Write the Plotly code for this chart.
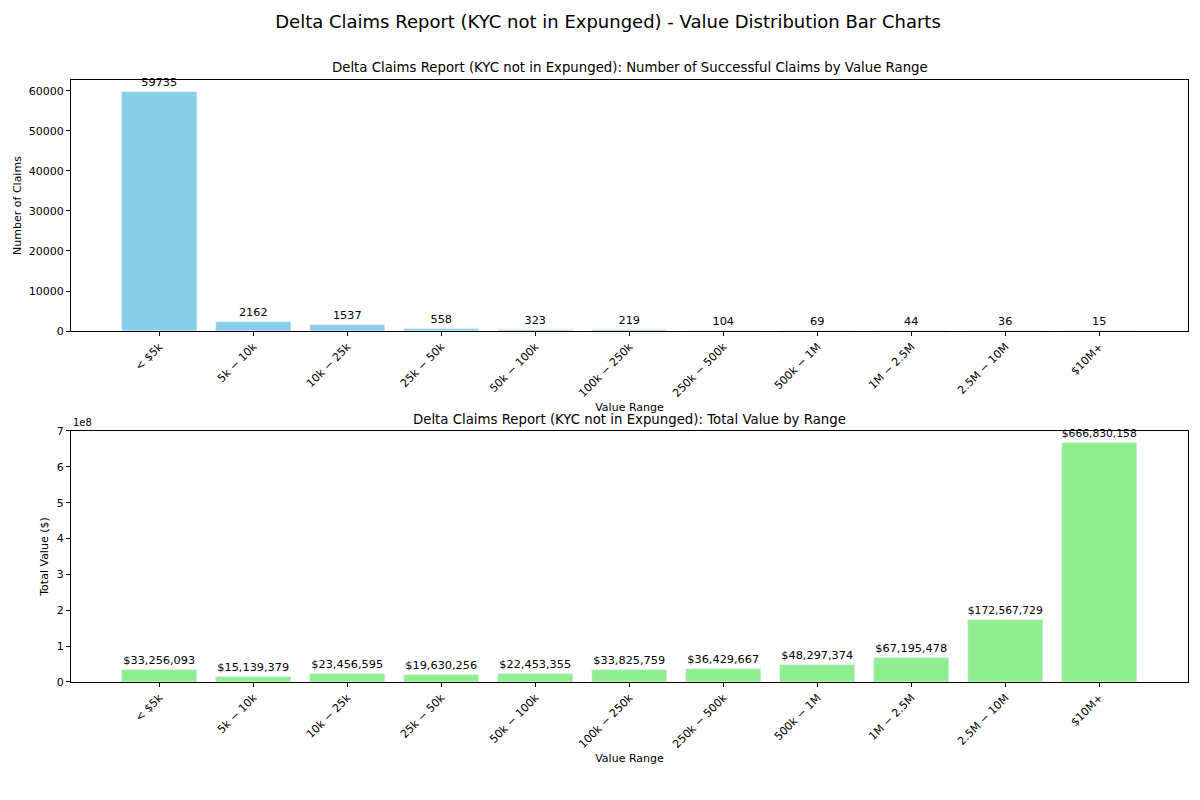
import plotly.graph_objects as go
from plotly.subplots import make_subplots

# value ranges (matplotlib rendered the $..$ pairs as math text)
ranges = ["< $5k", "5k − 10k", "10k − 25k", "25k − 50k", "50k − 100k", "100k − 250k",
          "250k − 500k", "500k − 1M", "1M − 2.5M", "2.5M − 10M", "$10M+"]
claim_counts = [59735, 2162, 1537, 558, 323, 219, 104, 69, 44, 36, 15]
total_values = [33256093, 15139379, 23456595, 19630256, 22453355, 33825759,
                36429667, 48297374, 67195478, 172567729, 666830158]
count_ticks = [0, 10000, 20000, 30000, 40000, 50000, 60000]
value_ticks = [0, 1, 2, 3, 4, 5, 6, 7]  # x 1e8

title = "Delta Claims Report (KYC not in Expunged)"
x = list(range(len(ranges)))

fig = make_subplots(rows=2, cols=1, vertical_spacing=0.166)

fig.add_trace(go.Bar(x=x, y=claim_counts, width=0.8, marker_color="#87CEEB",
                     text=[str(v) for v in claim_counts], textposition="outside",
                     cliponaxis=False, textfont=dict(size=11.3, color="black"),
                     showlegend=False), row=1, col=1)
fig.add_trace(go.Bar(x=x, y=total_values, width=0.8, marker_color="#90EE90",
                     text=[f"${v:,}" for v in total_values], textposition="outside",
                     cliponaxis=False, textfont=dict(size=11.3, color="black"),
                     showlegend=False), row=2, col=1)

axis_style = dict(showline=True, linecolor="black", linewidth=1, mirror=True,
                  ticks="outside", ticklen=4, tickcolor="black", showgrid=False,
                  zeroline=False, automargin=False,
                  tickfont=dict(size=11, color="black"))

for r in (1, 2):
    fig.update_xaxes(range=[-0.94, 10.94], tickvals=x, ticktext=ranges, tickangle=-45,
                     title=dict(text="Value Range", font=dict(size=11, color="black"),
                                standoff=4),
                     row=r, col=1, **axis_style)

fig.update_yaxes(range=[0, 62722], tickvals=count_ticks,
                 ticktext=[str(v) for v in count_ticks],
                 title=dict(text="Number of Claims", font=dict(size=11, color="black"),
                            standoff=4),
                 row=1, col=1, **axis_style)
fig.update_yaxes(range=[0, 7.0e8], tickvals=[v * 1e8 for v in value_ticks],
                 ticktext=[str(v) for v in value_ticks],
                 title=dict(text="Total Value ($)", font=dict(size=11, color="black"),
                            standoff=5),
                 row=2, col=1, **axis_style)

# page body adds 8px on the top/left, so the margins are shifted to compensate
fig.update_layout(
    width=1200, height=800,
    margin=dict(l=63, r=20, t=72, b=126),
    paper_bgcolor="white", plot_bgcolor="white",
    font=dict(family="DejaVu Sans", color="black"),
    bargap=0,
    title=dict(text=title + " - Value Distribution Bar Charts", x=0.5, xanchor="center",
               y=0.983, yanchor="middle", font=dict(size=18, color="black")),
    annotations=[
        dict(text=title + ": Number of Successful Claims by Value Range", x=0.5,
             xref="paper", y=1.0, yref="paper", yshift=3, yanchor="bottom",
             showarrow=False, font=dict(size=13.3)),
        dict(text=title + ": Total Value by Range", x=0.5, xref="paper", y=0.417,
             yref="paper", yshift=2, yanchor="bottom", showarrow=False,
             font=dict(size=13.3)),
        dict(text="1e8", x=0, xref="paper", y=0.417, yref="paper", yshift=1,
             xanchor="left", yanchor="bottom", showarrow=False, font=dict(size=10)),
    ],
)

fig.write_html("out.html")
